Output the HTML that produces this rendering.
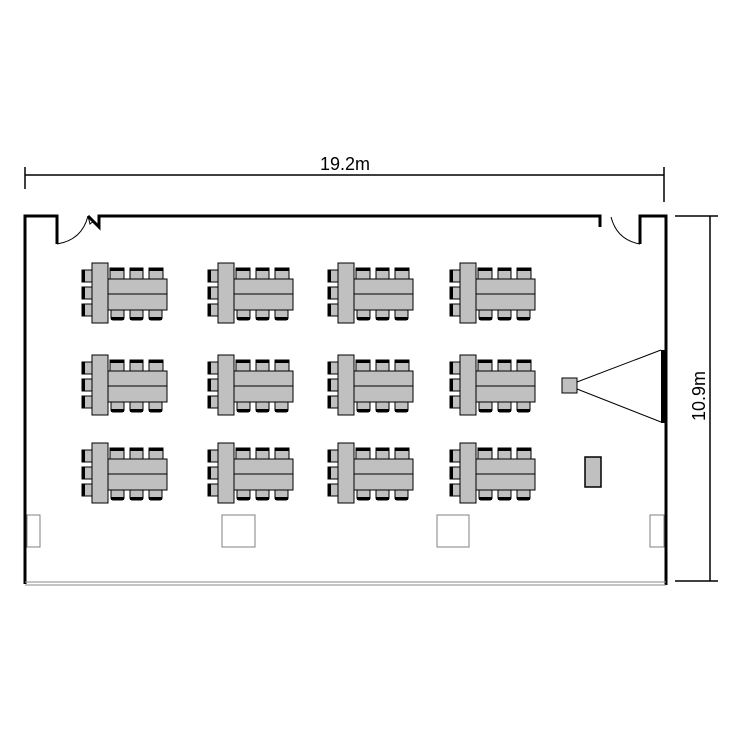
<!DOCTYPE html>
<html><head><meta charset="utf-8"><style>html,body{margin:0;padding:0;background:#fff}svg{display:block}</style></head>
<body>
<svg width="736" height="736" viewBox="0 0 736 736" xmlns="http://www.w3.org/2000/svg">
<defs>
<g id="grp">
  <!-- left chairs -->
  <g fill="#c0c0c0" stroke="#000" stroke-width="1">
    <rect x="-10" y="7" width="10" height="12"/><rect x="-10" y="24" width="10" height="12"/><rect x="-10" y="41" width="10" height="12"/>
  </g>
  <g fill="#000"><rect x="-10" y="7" width="3" height="12"/><rect x="-10" y="24" width="3" height="12"/><rect x="-10" y="41" width="3" height="12"/></g>
  <!-- top chairs -->
  <g fill="#c0c0c0" stroke="#000" stroke-width="1">
    <rect x="18" y="5" width="14" height="12"/><rect x="38" y="5" width="13" height="12"/><rect x="57" y="5" width="14" height="12"/>
    <rect x="19" y="46" width="13" height="11" rx="2"/><rect x="38" y="46" width="13" height="11" rx="2"/><rect x="57" y="46" width="13" height="11" rx="2"/>
  </g>
  <g fill="#000"><rect x="18" y="5" width="14" height="3"/><rect x="38" y="5" width="13" height="3"/><rect x="57" y="5" width="14" height="3"/>
    <rect x="19" y="54" width="13" height="3"/><rect x="38" y="54" width="13" height="3"/><rect x="57" y="54" width="13" height="3"/></g>
  <!-- horizontal tables -->
  <rect x="16" y="16" width="59" height="15" fill="#c0c0c0" stroke="#000"/>
  <rect x="16" y="31" width="59" height="16" fill="#c0c0c0" stroke="#000"/>
  <!-- vertical table -->
  <rect x="0" y="0" width="16" height="60" fill="#c0c0c0" stroke="#000"/>
</g>
</defs>

<!-- dimension top -->
<g stroke="#000" stroke-width="1.5">
  <line x1="25" y1="175" x2="664" y2="175"/>
  <line x1="25" y1="167" x2="25" y2="189"/>
  <line x1="664" y1="167" x2="664" y2="202"/>
  <line x1="675" y1="216" x2="718" y2="216"/>
  <line x1="675" y1="581" x2="718" y2="581"/>
  <line x1="710" y1="216" x2="710" y2="581"/>
</g>
<text x="345" y="170" font-family="Liberation Sans, sans-serif" font-size="18" text-anchor="middle">19.2m</text>
<text transform="translate(705,396) rotate(-90)" font-family="Liberation Sans, sans-serif" font-size="18" text-anchor="middle">10.9m</text>

<!-- walls -->
<g fill="none" stroke="#000" stroke-width="3">
  <polyline points="25,584 25,216 57,216 57,244"/>
  <polyline points="88,216 99,227 99,216 600,216 600,227"/>
  <polyline points="640,244 640,216 666,216 666,585"/>
</g>
<g fill="none" stroke="#000" stroke-width="1">
  <path d="M57,244 Q82,240 88,216"/>
  <path d="M611,217 Q617,240 640,244"/>
  <path d="M88,216 L90,224 Q92,222 94,222"/>
</g>
<line x1="25" y1="582" x2="666" y2="582" stroke="#888" stroke-width="1"/>
<line x1="25" y1="585" x2="666" y2="585" stroke="#888" stroke-width="1"/>
<rect x="661" y="350" width="4" height="73" fill="#000"/>

<!-- projector -->
<rect x="562" y="378" width="15" height="15" fill="#c0c0c0" stroke="#000"/>
<line x1="577" y1="382" x2="661" y2="350" stroke="#000"/>
<line x1="577" y1="389" x2="661" y2="422" stroke="#000"/>
<!-- lectern -->
<rect x="585" y="457" width="16" height="30" fill="#c0c0c0" stroke="#000" stroke-width="1.5"/>

<!-- columns -->
<g fill="#fff" stroke="#808080" stroke-width="1">
  <rect x="27" y="515" width="13" height="32"/>
  <rect x="222" y="515" width="33" height="32"/>
  <rect x="437" y="515" width="32" height="32"/>
  <rect x="650" y="515" width="14" height="32"/>
</g>

<!-- table groups -->
<use href="#grp" x="92" y="263"/><use href="#grp" x="218" y="263"/><use href="#grp" x="338" y="263"/><use href="#grp" x="460" y="263"/>
<use href="#grp" x="92" y="355"/><use href="#grp" x="218" y="355"/><use href="#grp" x="338" y="355"/><use href="#grp" x="460" y="355"/>
<use href="#grp" x="92" y="443"/><use href="#grp" x="218" y="443"/><use href="#grp" x="338" y="443"/><use href="#grp" x="460" y="443"/>
</svg>
</body></html>
